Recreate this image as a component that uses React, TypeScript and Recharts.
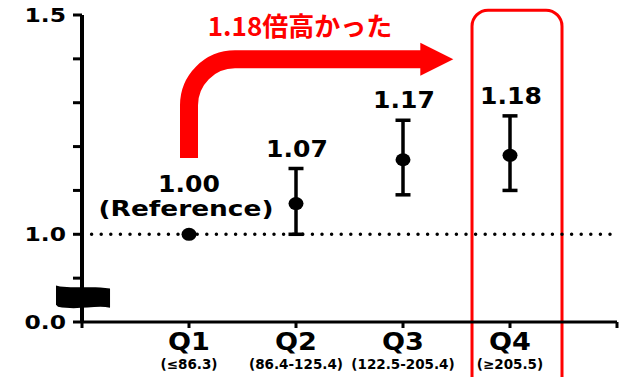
import React from "react";
import {
  ComposedChart,
  Scatter,
  ErrorBar,
  XAxis,
  YAxis,
  ReferenceLine,
  ReferenceArea,
} from "recharts";

// ---- data ----
const categories = ["Q1", "Q2", "Q3", "Q4"];
const ranges = ["(≤86.3)", "(86.4-125.4)", "(122.5-205.4)", "(≥205.5)"];
const positions = [1, 2, 3, 4];
const values = [1.0, 1.07, 1.17, 1.18];
const lower = [1.0, 1.0, 1.09, 1.1];
const upper = [1.0, 1.15, 1.26, 1.27];
const valueLabels = ["1.00", "1.07", "1.17", "1.18"];
const notes = ["(Reference)", "", "", ""];
const xTicks = [0, 1, 2, 3, 4, 5];
const yTicks = [0.8, 0.9, 1.0, 1.1, 1.2, 1.3, 1.4, 1.5];
const yTickLabels = ["0.0", "", "1.0", "", "", "", "", "1.5"];
const referenceValue = 1.0;
const arrowText = "1.18倍高かった";
const arrowStart = { x: 1, y: 1.174 };
const arrowEnd = { x: 3.47, y: 1.399 };
const highlightBox = { x1: 3.645, x2: 4.486, y1: 0.6, y2: 1.511 };
const breakMark = { x1: -0.243, x2: 0.262, y1: 0.828, y2: 0.883 };

const rows = positions.map((x, i) => ({
  x,
  value: values[i],
  err: i === 0 ? null : [values[i] - lower[i], upper[i] - values[i]],
  upper: upper[i],
  label: valueLabels[i],
  note: notes[i],
  cat: categories[i],
  range: ranges[i],
}));

const FONT = "'DejaVu Sans', Verdana, sans-serif";
const RED = "#ff0000";

const YTick = (props: any) => {
  const { x, y, payload } = props;
  const idx = yTicks.findIndex((t) => Math.abs(t - payload.value) < 1e-9);
  const label = idx >= 0 ? yTickLabels[idx] : "";
  if (!label) return null;
  return (
    <text
      transform={`translate(${x - 5},${y + 7}) scale(1.2,1)`}
      textAnchor="end"
      fontFamily={FONT}
      fontWeight="bold"
      fontSize={19.5}
      fill="#000"
    >
      {label}
    </text>
  );
};

const XTick = (props: any) => {
  const { x, y, payload } = props;
  const idx = positions.indexOf(payload.value);
  if (idx < 0) return null;
  return (
    <g>
      <text
        transform={`translate(${x},${y + 20}) scale(1.13,1)`}
        textAnchor="middle"
        fontFamily={FONT}
        fontWeight="bold"
        fontSize={24}
        fill="#000"
      >
        {categories[idx]}
      </text>
      <text
        x={x}
        y={y + 39}
        textAnchor="middle"
        fontFamily={FONT}
        fontWeight="bold"
        fontSize={13.5}
        fill="#000"
      >
        {ranges[idx]}
      </text>
    </g>
  );
};

const DotShape = (props: any) => {
  const { cx, cy } = props;
  return <ellipse cx={cx} cy={cy} rx={7.5} ry={6.5} fill="#000" />;
};

const LabelShape = (props: any) => {
  const { cx, cy, payload } = props;
  if (payload.note) {
    return (
      <g>
        <text
          transform={`translate(${cx},${cy - 42}) scale(1.09,1)`}
          textAnchor="middle"
          fontFamily={FONT}
          fontWeight="bold"
          fontSize={23}
          fill="#000"
        >
          {payload.label}
        </text>
        <text
          transform={`translate(${cx - 3},${cy - 18}) scale(1.2,1)`}
          textAnchor="middle"
          fontFamily={FONT}
          fontWeight="bold"
          fontSize={22}
          fill="#000"
        >
          {payload.note}
        </text>
      </g>
    );
  }
  return (
    <text
      transform={`translate(${cx + 1},${cy - 12}) scale(1.09,1)`}
      textAnchor="middle"
      fontFamily={FONT}
      fontWeight="bold"
      fontSize={23}
      fill="#000"
    >
      {payload.label}
    </text>
  );
};

const ArrowShape = (props: any) => {
  const { x, y, width, height } = props;
  const r = 46;
  const head = 33;
  const x0 = x;
  const top = y;
  const bottom = y + height;
  const tipX = x + width;
  return (
    <g>
      <path
        d={`M${x0},${bottom} L${x0},${top + r} A${r},${r} 0 0 1 ${x0 + r},${top} L${tipX - head + 1},${top}`}
        fill="none"
        stroke={RED}
        strokeWidth={18}
      />
      <polygon
        points={`${tipX - head},${top - 16.5} ${tipX},${top} ${tipX - head},${top + 16.5}`}
        fill={RED}
      />
      <text
        x={x0 + 111}
        y={top - 23}
        textAnchor="middle"
        fontFamily="'Noto Sans CJK JP', sans-serif"
        fontWeight="bold"
        fontSize={26}
        fill={RED}
      >
        {arrowText}
      </text>
    </g>
  );
};

const BoxShape = (props: any) => {
  const { x, y, width, height } = props;
  return (
    <rect
      x={x}
      y={y}
      width={width}
      height={height}
      rx={16}
      ry={16}
      fill="none"
      stroke={RED}
      strokeWidth={3}
    />
  );
};

const BreakShape = (props: any) => {
  const { x, y, width: w, height: h } = props;
  const d = `M${x},${y} L${x + 4},${y + 1} C${x + 19},${y + 3} ${x + 38},${y} ${x + w},${y + 3} L${x + w},${y + h - 2} C${x + 40},${y + h - 5} ${x + 22},${y + h + 1} ${x + 2},${y + h - 3} L${x},${y + h - 5} Z`;
  return <path d={d} fill="#000" />;
};

export default function App() {
  return (
    <div style={{ position: "absolute", left: 0, top: 0, background: "#fff" }}>
      <ComposedChart
        width={626}
        height={377}
        data={rows}
        margin={{ top: 15, right: 9, bottom: 0, left: 0 }}
      >
        <XAxis
          dataKey="x"
          type="number"
          domain={[0, 5]}
          ticks={xTicks}
          interval={0}
          height={55}
          tickSize={6}
          tick={<XTick />}
          axisLine={{ stroke: "#000", strokeWidth: 3 }}
          tickLine={{ stroke: "#000", strokeWidth: 3 }}
          allowDataOverflow
        />
        <YAxis
          type="number"
          domain={[0.8, 1.5]}
          ticks={yTicks}
          interval={0}
          width={82}
          tickSize={9}
          tick={<YTick />}
          axisLine={{ stroke: "#000", strokeWidth: 4 }}
          tickLine={{ stroke: "#000", strokeWidth: 3 }}
          allowDataOverflow
        />
        <ReferenceLine
          y={referenceValue}
          stroke="#000"
          strokeWidth={3.5}
          strokeDasharray="0 9.6"
          strokeLinecap="round"
        />
        <ReferenceArea
          x1={highlightBox.x1}
          x2={highlightBox.x2}
          y1={highlightBox.y1}
          y2={highlightBox.y2}
          ifOverflow="visible"
          shape={<BoxShape />}
        />
        <ReferenceArea
          x1={arrowStart.x}
          x2={arrowEnd.x}
          y1={arrowStart.y}
          y2={arrowEnd.y}
          ifOverflow="visible"
          shape={<ArrowShape />}
        />
        <ReferenceArea
          x1={breakMark.x1}
          x2={breakMark.x2}
          y1={breakMark.y1}
          y2={breakMark.y2}
          ifOverflow="visible"
          shape={<BreakShape />}
        />
        <Scatter dataKey="value" shape={<DotShape />} isAnimationActive={false}>
          <ErrorBar
            dataKey="err"
            direction="y"
            width={7.5}
            strokeWidth={3.5}
            stroke="#000"
            isAnimationActive={false}
          />
        </Scatter>
        <Scatter dataKey="upper" shape={<LabelShape />} isAnimationActive={false} />
      </ComposedChart>
    </div>
  );
}
